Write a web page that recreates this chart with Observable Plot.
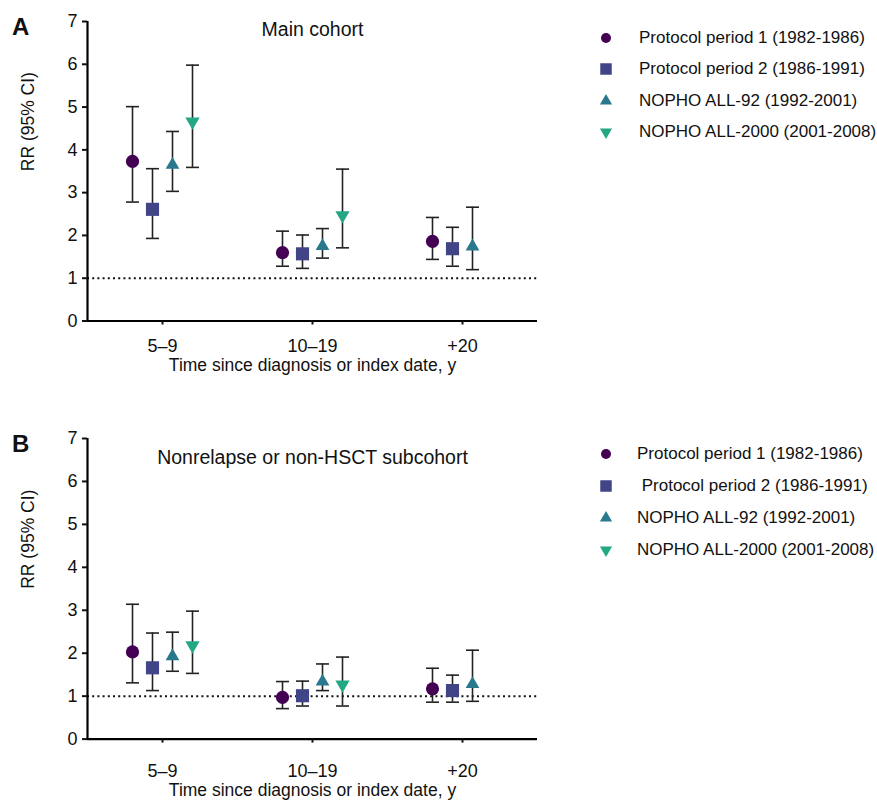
<!DOCTYPE html>
<html>
<head>
<meta charset="utf-8">
<script src="https://cdn.jsdelivr.net/npm/d3@7"></script>
<script src="https://cdn.jsdelivr.net/npm/@observablehq/plot@0.6"></script>
<style>
html, body { margin: 0; padding: 0; background: #fff; overflow: hidden; }
#root { position: relative; width: 877px; height: 800px; font-family: "Liberation Sans", Arial, sans-serif; color: #111; }
.panel { position: absolute; left: 0; }
.letter { position: absolute; font-weight: bold; font-size: 24px; line-height: 24px; }
.lrow { position: absolute; height: 20px; width: 300px; }
.lrow svg { position: absolute; left: 0; top: 0; }
.lrow span { position: absolute; top: 0; line-height: 20px; font-size: 17px; white-space: pre; color: #111; }
</style>
</head>
<body>
<div id="root"></div>
<script>
// ---------------- data ----------------
const groups = ["5–9", "10–19", "+20"];
const seriesKeys = ["PP1", "PP2", "ALL92", "ALL2000"];
const legendLabelsA = ["Protocol period 1 (1982-1986)", "Protocol period 2 (1986-1991)", "NOPHO ALL-92 (1992-2001)", "NOPHO ALL-2000 (2001-2008)"];
const legendLabelsB = ["Protocol period 1 (1982-1986)", " Protocol period 2 (1986-1991)", "NOPHO ALL-92 (1992-2001)", "NOPHO ALL-2000 (2001-2008)"];
const colors = ["#440154", "#414487", "#2a788e", "#22a884"];
const yTicks = [0, 1, 2, 3, 4, 5, 6, 7];
const refValue = 1;

const titleA = "Main cohort";
const titleB = "Nonrelapse or non-HSCT subcohort";
const xLabel = "Time since diagnosis or index date, y";
const yLabel = "RR (95% CI)";

// Panel A: main cohort
const aGroup  = ["5–9", "5–9", "5–9", "5–9", "10–19", "10–19", "10–19", "10–19", "+20", "+20", "+20"];
const aSeries = ["PP1", "PP2", "ALL92", "ALL2000", "PP1", "PP2", "ALL92", "ALL2000", "PP1", "PP2", "ALL92"];
const aRR = [3.73, 2.61, 3.65, 4.66, 1.60, 1.57, 1.75, 2.47, 1.86, 1.69, 1.74];
const aLo = [2.78, 1.93, 3.03, 3.59, 1.28, 1.23, 1.47, 1.71, 1.44, 1.28, 1.20];
const aHi = [5.01, 3.56, 4.43, 5.98, 2.10, 2.01, 2.16, 3.55, 2.42, 2.19, 2.66];

// Panel B: nonrelapse / non-HSCT subcohort
const bGroup  = ["5–9", "5–9", "5–9", "5–9", "10–19", "10–19", "10–19", "10–19", "+20", "+20", "+20"];
const bSeries = ["PP1", "PP2", "ALL92", "ALL2000", "PP1", "PP2", "ALL92", "ALL2000", "PP1", "PP2", "ALL92"];
const bRR = [2.03, 1.66, 1.93, 2.18, 0.97, 1.01, 1.34, 1.27, 1.17, 1.13, 1.28];
const bLo = [1.31, 1.13, 1.58, 1.53, 0.71, 0.77, 1.13, 0.77, 0.86, 0.86, 0.88];
const bHi = [3.14, 2.47, 2.49, 2.98, 1.34, 1.35, 1.75, 1.91, 1.65, 1.49, 2.07];

// ---------------- symbols ----------------
const sqrt3 = Math.sqrt(3);
const symbolTriangleDown = {
  draw(context, size) {
    const y = -Math.sqrt(size / (sqrt3 * 3));
    context.moveTo(0, -y * 2);
    context.lineTo(-sqrt3 * y, y);
    context.lineTo(sqrt3 * y, y);
    context.closePath();
  }
};
const capSymbol = {
  draw(context) {
    context.moveTo(-6.5, 0);
    context.lineTo(6.5, 0);
  }
};
const symbols = [d3.symbolCircle, d3.symbolSquare, d3.symbolTriangle, symbolTriangleDown];
const markerR = [6.6, 7.4, 5.1, 5.3];
const seriesDx = [-30, -10, 10, 30];
const legendSymbolSize = [78, 132, 64, 64];

const root = document.getElementById("root");

function buildRows(group, series, rr, lo, hi) {
  return group.map((g, i) => ({ group: g, series: series[i], rr: rr[i], lo: lo[i], hi: hi[i] }));
}

function makePanel(opts) {
  const rows = buildRows(opts.group, opts.series, opts.rr, opts.lo, opts.hi);
  const xPos = d => groups.indexOf(d.group) + 0.5;
  const marks = [];
  // reference line
  marks.push(Plot.ruleY([refValue], { stroke: "#111", strokeWidth: 2, strokeDasharray: "2,3.2" }));
  // error bars
  seriesKeys.forEach((s, si) => {
    const sub = rows.filter(d => d.series === s);
    marks.push(Plot.ruleX(sub, { x: xPos, y1: "lo", y2: "hi", dx: seriesDx[si], stroke: "#222", strokeWidth: 1.6 }));
    marks.push(Plot.dot(sub, { x: xPos, y: "lo", dx: seriesDx[si], symbol: capSymbol, r: 3, fill: "none", stroke: "#222", strokeWidth: 1.6 }));
    marks.push(Plot.dot(sub, { x: xPos, y: "hi", dx: seriesDx[si], symbol: capSymbol, r: 3, fill: "none", stroke: "#222", strokeWidth: 1.6 }));
  });
  // markers
  seriesKeys.forEach((s, si) => {
    const sub = rows.filter(d => d.series === s);
    marks.push(Plot.dot(sub, { x: xPos, y: "rr", dx: seriesDx[si], symbol: symbols[si], r: markerR[si], fill: colors[si], stroke: "none" }));
  });
  // axes
  marks.push(Plot.ruleX([0], { stroke: "#000", strokeWidth: 2.2 }));
  marks.push(Plot.ruleY([0], { stroke: "#000", strokeWidth: 2.2 }));
  marks.push(Plot.axisY({ ticks: yTicks, tickSize: 5, tickPadding: 5, fontSize: 18, strokeWidth: 2, label: null, tickFormat: d => String(d), fill: "#111" }));
  marks.push(Plot.axisX({ ticks: groups.map((g, i) => i + 0.5), tickFormat: d => groups[Math.floor(d)], tickSize: 4, tickPadding: opts.xTickPadding, fontSize: 18, strokeWidth: 2, label: null, fill: "#111" }));
  // titles / labels
  marks.push(Plot.text([opts.title], { text: d => d, frameAnchor: "top", lineAnchor: "top", dy: opts.titleDy, fontSize: 19.5, fill: "#111" }));
  marks.push(Plot.text([xLabel], { text: d => d, frameAnchor: "bottom", lineAnchor: "top", dy: opts.xLabelDy, fontSize: 17.5, fill: "#111" }));
  marks.push(Plot.text([yLabel], { text: d => d, frameAnchor: "left", lineAnchor: "middle", rotate: -90, dx: -59, fontSize: 17.5, fill: "#111" }));

  const chart = Plot.plot({
    width: 560,
    height: opts.height,
    marginLeft: 87,
    marginRight: 23,
    marginTop: opts.marginTop,
    marginBottom: opts.marginBottom,
    style: { fontFamily: '"Liberation Sans", Arial, sans-serif', color: "#111", background: "transparent", overflow: "visible" },
    x: { domain: [0, 3], axis: null },
    y: { domain: [0, 7], axis: null },
    marks
  });
  chart.classList.add("panel");
  chart.style.top = opts.top + "px";
  root.appendChild(chart);

  // panel letter
  const letter = document.createElement("div");
  letter.className = "letter";
  letter.textContent = opts.letter;
  letter.style.left = "12px";
  letter.style.top = opts.letterTop + "px";
  root.appendChild(letter);

  // legend
  opts.legendLabels.forEach((lab, i) => {
    const row = document.createElement("div");
    row.className = "lrow";
    row.style.left = "596px";
    row.style.top = (opts.legendTop + i * opts.legendStep - 10) + "px";
    const svg = d3.create("svg").attr("width", 20).attr("height", 20);
    svg.append("path")
      .attr("transform", "translate(10,10)")
      .attr("d", d3.symbol(symbols[i], legendSymbolSize[i])())
      .attr("fill", colors[i]);
    row.appendChild(svg.node());
    const span = document.createElement("span");
    span.textContent = lab;
    span.style.left = opts.legendTextLeft + "px";
    row.appendChild(span);
    root.appendChild(row);
  });
}

makePanel({
  group: aGroup, series: aSeries, rr: aRR, lo: aLo, hi: aHi,
  title: titleA, letter: "A", letterTop: 15,
  top: 0, height: 400, marginTop: 21, marginBottom: 79.5,
  xTickPadding: 14, titleDy: 1, xLabelDy: 37.5,
  legendLabels: legendLabelsA, legendTop: 37.5, legendStep: 31.5, legendTextLeft: 43
});

makePanel({
  group: bGroup, series: bSeries, rr: bRR, lo: bLo, hi: bHi,
  title: titleB, letter: "B", letterTop: 432,
  top: 418, height: 382, marginTop: 20, marginBottom: 61.4,
  xTickPadding: 21, titleDy: 12, xLabelDy: 44,
  legendLabels: legendLabelsB, legendTop: 454, legendStep: 32, legendTextLeft: 41
});
</script>
</body>
</html>
